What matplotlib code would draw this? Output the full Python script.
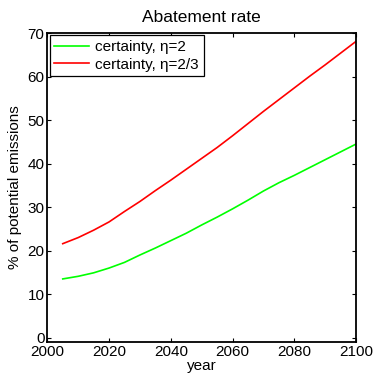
import matplotlib
matplotlib.use("Agg")
import matplotlib.pyplot as plt

years = [2005, 2010, 2015, 2020, 2025, 2030, 2035, 2040, 2045, 2050,
         2055, 2060, 2065, 2070, 2075, 2080, 2085, 2090, 2095, 2100]
eta2 = [13.5, 14.1, 14.9, 16.0, 17.3, 19.0, 20.6, 22.3, 24.0, 25.9,
        27.7, 29.6, 31.6, 33.7, 35.6, 37.3, 39.1, 40.9, 42.7, 44.5]
eta23 = [21.6, 23.0, 24.7, 26.6, 29.0, 31.3, 33.8, 36.2, 38.7, 41.2,
         43.7, 46.4, 49.2, 52.0, 54.7, 57.4, 60.1, 62.7, 65.4, 68.1]
series_labels = ["certainty, \u03b7=2", "certainty, \u03b7=2/3"]
xticks = [2000, 2020, 2040, 2060, 2080, 2100]
yticks = [0, 10, 20, 30, 40, 50, 60, 70]

plt.rcParams['font.family'] = ['Liberation Sans', 'DejaVu Sans']
fig = plt.figure(figsize=(3.74, 3.76), dpi=100)
ax = fig.add_axes([0.1265, 0.0904, 0.8255, 0.8216])
ax.plot(years, eta2, color='#00ff00', lw=1.2, label=series_labels[0])
ax.plot(years, eta23, color='#ff0000', lw=1.2, label=series_labels[1])
ax.set_xlim(2000, 2100)
ax.set_ylim(-1, 70)
ax.set_xticks(xticks)
ax.set_yticks(yticks)
ax.tick_params(direction='in', top=True, right=True, labelsize=11, length=3, width=0.8, pad=2)
for s in ax.spines.values():
    s.set_linewidth(1.3)
ax.set_title("Abatement rate", fontsize=12.5, pad=8)
ax.set_xlabel("year", fontsize=11, labelpad=0)
ax.set_ylabel("% of potential emissions", fontsize=11, labelpad=4)
leg = ax.legend(loc='upper left', fontsize=11, fancybox=False, framealpha=1,
                edgecolor='black', borderaxespad=0.15, handlelength=2.3,
                handletextpad=0.4, borderpad=0.3, labelspacing=0.25)
leg.get_frame().set_linewidth(0.9)
fig.savefig("out.png", dpi=100)
